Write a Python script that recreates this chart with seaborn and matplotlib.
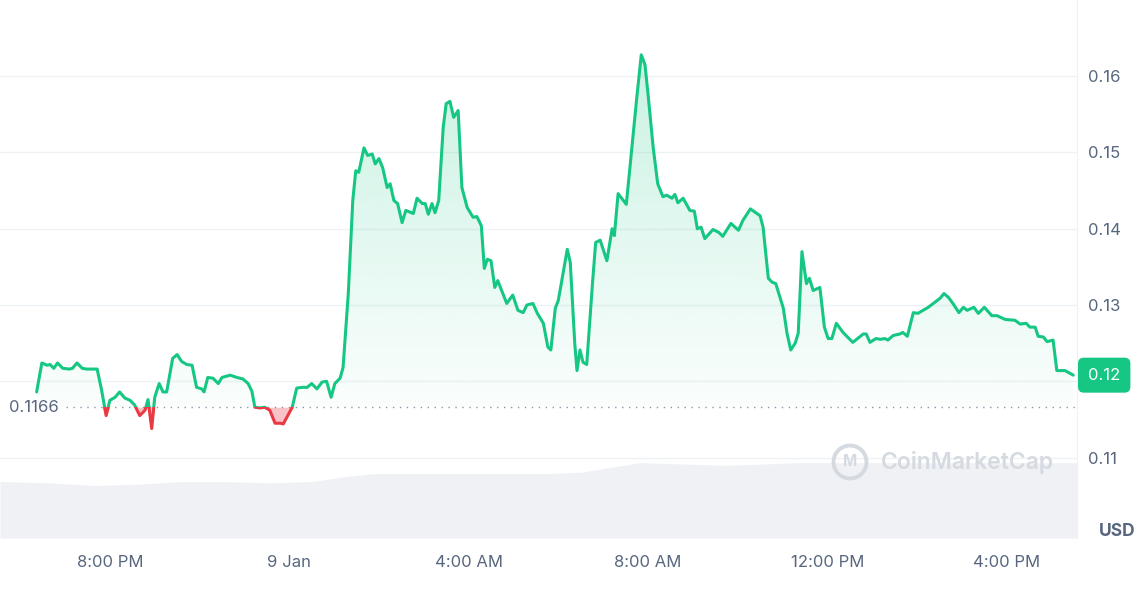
import seaborn as sns
import matplotlib.pyplot as plt
import matplotlib.dates as mdates
import matplotlib.transforms as mtransforms
from matplotlib.patches import Rectangle, Ellipse
import numpy as np
import pandas as pd

# price trace, 8 Jan 18:22 -> 9 Jan 17:29 (HH:MM, day rolls over at midnight)
times = ["18:22","18:29","18:36","18:40","18:45","18:50","18:57","19:06","19:10","19:16","19:23","19:29","19:43","19:49","19:55",
         "20:00","20:07","20:13","20:20","20:27","20:33","20:40","20:47","20:51","20:56","21:00","21:06","21:11","21:16","21:24",
         "21:30","21:36","21:43","21:50","21:56","22:03","22:06","22:11","22:18","22:25","22:30","22:41","22:50","22:58","23:05",
         "23:10","23:14","23:21","23:27","23:34","23:41","23:48","23:52","23:58","00:04","00:10","00:17","00:24","00:30","00:37",
         "00:44","00:50","00:56","01:01","01:08","01:12","01:19","01:25","01:29","01:33","01:40","01:45","01:51","01:55","02:00",
         "02:05","02:11","02:15","02:20","02:25","02:31","02:36","02:46","02:51","02:58","03:02","03:06","03:11","03:15","03:20",
         "03:26","03:30","03:35","03:40","03:46","03:51","03:58","04:06","04:11","04:17","04:21","04:25","04:30","04:35","04:39",
         "04:51","04:59","05:06","05:13","05:18","05:26","05:32","05:40","05:46","05:50","05:56","06:00","06:12","06:16","06:22",
         "06:25","06:29","06:33","06:38","06:46","06:50","06:56","07:05","07:12","07:15","07:20","07:31","07:39","07:45","07:51",
         "07:56","08:00","08:07","08:13","08:20","08:25","08:32","08:36","08:40","08:47","08:56","09:02","09:06","09:11","09:16",
         "09:27","09:35","09:40","09:51","10:01","10:07","10:17","10:30","10:34","10:41","10:46","10:51","11:01","11:06","11:11",
         "11:17","11:21","11:26","11:32","11:36","11:41","11:50","11:56","12:01","12:06","12:12","12:21","12:34","12:48","12:52",
         "12:57","13:05","13:11","13:17","13:21","13:28","13:37","13:41","13:47","13:55","14:01","14:08","14:15","14:27","14:31",
         "14:36","14:42","14:48","14:56","15:02","15:07","15:16","15:22","15:30","15:40","15:47","15:58","16:11","16:18","16:26",
         "16:31","16:38","16:42","16:49","16:54","17:02","17:07","17:18","17:29"]
prices = [0.1186,0.1224,0.1221,0.1222,0.1217,0.1224,0.1217,0.1216,0.1217,0.1224,0.1217,0.1216,0.1216,0.1188,0.1155,
          0.1175,0.1179,0.1186,0.1178,0.1175,0.1169,0.1155,0.1162,0.1176,0.1138,0.1179,0.1197,0.1186,0.1186,0.1230,
          0.1235,0.1226,0.1222,0.1221,0.1192,0.1190,0.1186,0.1205,0.1204,0.1197,0.1205,0.1208,0.1205,0.1203,0.1197,
          0.1187,0.1166,0.1165,0.1166,0.1162,0.1145,0.1145,0.1144,0.1155,0.1166,0.1191,0.1192,0.1192,0.1197,0.1190,
          0.1199,0.1200,0.1179,0.1197,0.1204,0.1218,0.1315,0.1437,0.1476,0.1474,0.1506,0.1496,0.1498,0.1485,0.1492,
          0.1480,0.1454,0.1459,0.1437,0.1433,0.1408,0.1424,0.1420,0.1440,0.1433,0.1433,0.1419,0.1433,0.1421,0.1437,
          0.1533,0.1564,0.1567,0.1546,0.1555,0.1454,0.1428,0.1415,0.1416,0.1404,0.1348,0.1360,0.1358,0.1323,0.1332,
          0.1302,0.1313,0.1293,0.1290,0.1300,0.1302,0.1289,0.1276,0.1245,0.1241,0.1296,0.1306,0.1373,0.1356,0.1250,
          0.1214,0.1241,0.1225,0.1222,0.1332,0.1382,0.1385,0.1358,0.1400,0.1391,0.1446,0.1432,0.1512,0.1572,0.1628,
          0.1615,0.1577,0.1506,0.1459,0.1442,0.1444,0.1440,0.1445,0.1434,0.1440,0.1424,0.1423,0.1400,0.1402,0.1387,
          0.1399,0.1395,0.1390,0.1407,0.1398,0.1411,0.1426,0.1417,0.1402,0.1335,0.1330,0.1328,0.1296,0.1263,0.1241,
          0.1250,0.1263,0.1370,0.1328,0.1335,0.1319,0.1323,0.1271,0.1256,0.1256,0.1276,0.1264,0.1251,0.1262,0.1262,
          0.1251,0.1256,0.1255,0.1256,0.1254,0.1260,0.1262,0.1264,0.1259,0.1290,0.1289,0.1293,0.1297,0.1306,0.1309,
          0.1315,0.1310,0.1302,0.1290,0.1297,0.1293,0.1297,0.1289,0.1297,0.1286,0.1286,0.1281,0.1280,0.1275,0.1276,
          0.1271,0.1271,0.1259,0.1258,0.1252,0.1254,0.1214,0.1214,0.1208]

# 24h volume (arbitrary millions), coarse
vol_times = ["17:33","18:40","19:40","20:40","21:36","22:30","23:33","00:30","01:20","01:58","03:46","05:53","06:32",
             "07:49","09:46","11:23","14:00","17:34"]
volume_m = [42, 41, 39, 40, 42, 42, 41, 42, 46, 48, 48, 48, 49, 56, 54, 56, 56, 56]

open_price = 0.1166
last_label = "0.12"
ytick_vals = [0.11, 0.12, 0.13, 0.14, 0.15, 0.16]
xtick_times = ["2024-01-08 20:00", "2024-01-09 00:00", "2024-01-09 04:00",
               "2024-01-09 08:00", "2024-01-09 12:00", "2024-01-09 16:00"]
xtick_labels = ["8:00 PM", "9 Jan", "4:00 AM", "8:00 AM", "12:00 PM", "4:00 PM"]


def to_stamps(hhmm, start="2024-01-08"):
    day = pd.Timestamp(start)
    out, prev = [], None
    for s in hhmm:
        if prev is not None and s < prev:
            day = day + pd.Timedelta(days=1)
        out.append(pd.Timestamp(f"{day.date()} {s}"))
        prev = s
    return out


GREEN = "#16c784"
RED = "#ea3943"
GREY = "#58667e"

df = pd.DataFrame({"time": to_stamps(times), "price": prices})
vdf = pd.DataFrame({"time": to_stamps(vol_times), "vol": volume_m})

sns.set_style("white")
plt.rcParams["font.family"] = ["Inter", "DejaVu Sans"]

fig = plt.figure(figsize=(11.4, 6.02), dpi=100)
ax = fig.add_axes([0.0, 1 - 538 / 602, 1077 / 1140, 538 / 602])

xmin = pd.Timestamp("2024-01-08 17:33")
xmax = pd.Timestamp("2024-01-09 17:34")
ylo, yhi = 0.09945, 0.16999

# volume band on its own axis
ax2 = ax.twinx()
ax2.fill_between(vdf["time"], vdf["vol"], 0, color="#eff1f5", lw=0)
ax2.set_ylim(0, 400)
ax2.set_yticks([])
for sp in ax2.spines.values():
    sp.set_visible(False)

t = df["time"]
p = df["price"].to_numpy()

# green gradient fill above opening price
clip_poly = ax.fill_between(t, np.maximum(p, open_price), open_price, color="none", lw=0)
grad = np.zeros((256, 2, 4))
grad[..., :3] = plt.matplotlib.colors.to_rgb(GREEN)
grad[..., 3] = np.linspace(0.24, 0.02, 256)[:, None]
x0n, x1n = mdates.date2num(xmin), mdates.date2num(xmax)
im = ax.imshow(grad, extent=[x0n, x1n, open_price, 0.165], aspect="auto", origin="upper", zorder=1)
im.set_clip_path(clip_poly.get_paths()[0], ax.transData)

# red fill below
ax.fill_between(t, np.minimum(p, open_price), open_price, color=RED, alpha=0.3, lw=0, zorder=1)

sns.lineplot(data=df, x="time", y="price", color=GREEN, lw=2.2, ax=ax, zorder=3)
sns.lineplot(data=df, x="time", y="price", color=RED, lw=2.2, ax=ax, zorder=3)
up_line, down_line = ax.lines[-2], ax.lines[-1]
up_line.set_clip_path(Rectangle((x0n, open_price), x1n - x0n, 1, transform=ax.transData))
down_line.set_clip_path(Rectangle((x0n, -1), x1n - x0n, 1 + open_price, transform=ax.transData))

# opening price reference
ax.axhline(open_price, xmin=66 / 1077, xmax=1, color="#8a94a6", lw=1, ls=(0, (1, 4)), zorder=2)
blend = mtransforms.blended_transform_factory(ax.transAxes, ax.transData)
ax.text(9 / 1077, open_price, f"{open_price:.4f}", transform=blend, ha="left", va="center",
        fontsize=12, color=GREY)

ax.set_xlim(xmin, xmax)
ax.set_ylim(ylo, yhi)
ax.set_xticks([pd.Timestamp(s) for s in xtick_times])
ax.set_xticklabels(xtick_labels)
ax.yaxis.tick_right()
ax.set_yticks(ytick_vals)
# the 0.12 level is covered by the last-price badge
ax.set_yticklabels(["" if f"{v:.2f}" == last_label else f"{v:.2f}" for v in ytick_vals])
ax.tick_params(axis="both", length=0, labelsize=12, labelcolor=GREY)
ax.tick_params(axis="x", pad=12)
ax.tick_params(axis="y", pad=8)
ax.grid(axis="y", color="#eff2f5", lw=1)
ax.set_axisbelow(True)
ax.set_xlabel("")
ax.set_ylabel("")
for name, sp in ax.spines.items():
    sp.set_visible(name == "right")
ax.spines["right"].set_color("#eff2f5")

# last price badge
ax.text(1 + 11 / 1077, p[-1], last_label, transform=blend, ha="left", va="center", fontsize=12,
        color="white", bbox=dict(boxstyle="round,pad=0.6,rounding_size=0.35", fc=GREEN, ec="none"),
        zorder=5, clip_on=False)

fig.text(1117 / 1140, 1 - 531 / 602, "USD", ha="center", va="center", fontsize=12.5,
         fontweight="bold", color=GREY)

# watermark
fig.add_artist(Ellipse((850 / 1140, 1 - 462 / 602), 33 / 1140, 33 / 602, fill=False,
                       ec="#d5dae1", lw=2.8))
fig.text(850 / 1140, 1 - 462 / 602, "M", ha="center", va="center", fontsize=11,
         fontweight="bold", color="#d5dae1")
fig.text(881 / 1140, 1 - 462 / 602, "CoinMarketCap", ha="left", va="center", fontsize=16.5,
         fontweight="semibold", color="#d5dae1")

fig.savefig("out.png", dpi=100)
